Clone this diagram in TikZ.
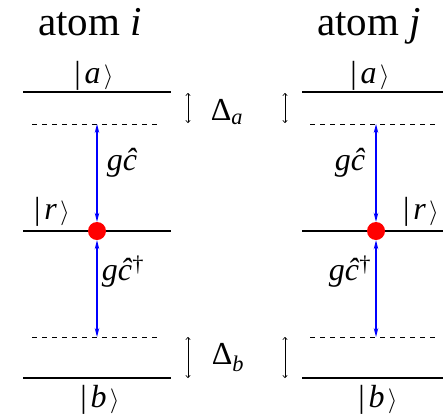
\documentclass[tikz,border=0pt]{standalone}
\usepackage{fontspec}
\setmainfont{Liberation Serif}
\usetikzlibrary{arrows.meta}
\tikzset{
  level/.style={line width=2.8pt},
  virt/.style={line width=0.6pt, dash pattern=on 5pt off 5pt},
  coup/.style={blue, line width=1.2pt, {Stealth[length=9pt,width=4.5pt]}-{Stealth[length=9pt,width=4.5pt]}},
  det/.style={line width=0.6pt, {To[length=3pt,width=5pt]}-{To[length=3pt,width=5pt]}},
  dot/.style={circle, fill=red, inner sep=0pt, minimum size=18pt},
  lab/.style={inner sep=0pt, font=\fontsize{32}{36}\selectfont},
  ttl/.style={inner sep=0pt, font=\fontsize{41}{46}\selectfont}
}
\newcommand{\ketlab}[1]{|\kern0.12em\textit{#1}\kern0.1em$\rangle$}
\begin{document}
\begin{tikzpicture}[x=1pt,y=-1pt]
\useasboundingbox (0,0) rectangle (443,415);
% titles
\node[ttl, anchor=base] (ti) at (90,35) {atom \textit{i}};
\node[ttl, anchor=base] (tj) at (369,35) {atom \textit{j}};
% left atom
\coordinate (La1) at (23,92); \coordinate (La2) at (171,92);
\coordinate (Lr1) at (23,231); \coordinate (Lr2) at (171,231);
\coordinate (Lb1) at (23,378); \coordinate (Lb2) at (171,378);
\coordinate (Lu1) at (32,124); \coordinate (Lu2) at (157,124);
\coordinate (Ld1) at (32,337); \coordinate (Ld2) at (157,337);
\draw[level] (La1) -- (La2);
\draw[level] (Lr1) -- (Lr2);
\draw[level] (Lb1) -- (Lb2);
\draw[virt] (Lu1) -- (Lu2);
\draw[virt] (Ld1) -- (Ld2);
\coordinate (Lut) at (97,124); \coordinate (Ldb) at (97,337);
\node[dot] (Ldot) at (97,231) {};
\draw[coup] (Lut) -- (Ldot);
\draw[coup] (Ldot) -- (Ldb);
\node[lab] (Lla) at (94,76) {\ketlab{a}};
\node[lab] (Llr) at (52,212) {\ketlab{r}};
\node[lab] (Llb) at (100,400) {\ketlab{b}};
\node[lab] (Lg1) at (122,163) {\textit{gĉ}};
\node[lab] (Lg2) at (123,272) {\textit{gĉ}\textsuperscript{†}};
% right atom
\coordinate (Ra1) at (302,92); \coordinate (Ra2) at (445,92);
\coordinate (Rr1) at (302,231); \coordinate (Rr2) at (445,231);
\coordinate (Rb1) at (302,378); \coordinate (Rb2) at (445,378);
\coordinate (Ru1) at (310,124); \coordinate (Ru2) at (435,124);
\coordinate (Rd1) at (310,337); \coordinate (Rd2) at (435,337);
\draw[level] (Ra1) -- (Ra2);
\draw[level] (Rr1) -- (Rr2);
\draw[level] (Rb1) -- (Rb2);
\draw[virt] (Ru1) -- (Ru2);
\draw[virt] (Rd1) -- (Rd2);
\coordinate (Rut) at (376,124); \coordinate (Rdb) at (376,337);
\node[dot] (Rdot) at (376,231) {};
\draw[coup] (Rut) -- (Rdot);
\draw[coup] (Rdot) -- (Rdb);
\node[lab] (Rla) at (370,76) {\ketlab{a}};
\node[lab] (Rlr) at (421,212) {\ketlab{r}};
\node[lab] (Rlb) at (378,400) {\ketlab{b}};
\node[lab] (Rg1) at (350,163) {\textit{gĉ}};
\node[lab] (Rg2) at (350,272) {\textit{gĉ}\textsuperscript{†}};
% detunings
\coordinate (Dl1) at (188,93); \coordinate (Dl2) at (188,123);
\coordinate (Dl3) at (188,337); \coordinate (Dl4) at (188,378);
\coordinate (Dr1) at (285,93); \coordinate (Dr2) at (285,123);
\coordinate (Dr3) at (285,337); \coordinate (Dr4) at (285,378);
\draw[det] (Dl1) -- (Dl2);
\draw[det] (Dl3) -- (Dl4);
\draw[det] (Dr1) -- (Dr2);
\draw[det] (Dr3) -- (Dr4);
\node[lab] (Da) at (227,112) {Δ\textsubscript{\textit{a}}};
\node[lab] (Db) at (228,358) {Δ\textsubscript{\textit{b}}};
\end{tikzpicture}
\end{document}
